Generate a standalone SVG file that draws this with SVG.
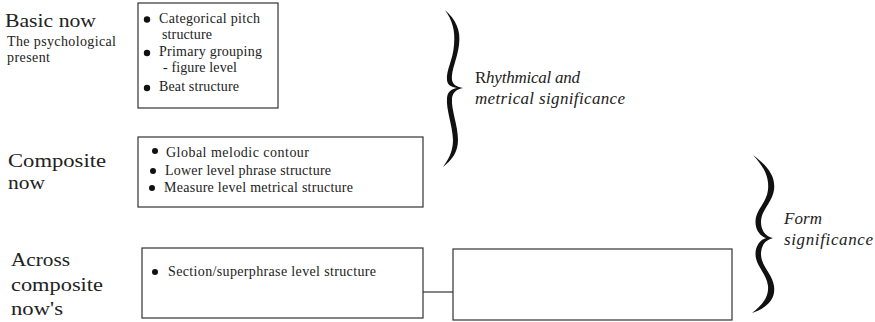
<svg xmlns="http://www.w3.org/2000/svg" width="875" height="322" viewBox="0 0 875 322">
<style>
text{font-family:"Liberation Serif","DejaVu Serif",serif;fill:#222}
.lbl{font-size:19px}
.sub{font-size:14px}
.item{font-size:14px}
.it{font-size:17px;font-style:italic}
.up{font-style:normal}
.box{fill:#fff;stroke:#333;stroke-width:1.2}
.dot{fill:#111}
.brace{fill:#111}
.conn{stroke:#333;stroke-width:1.2;fill:none}
</style>
<rect width="875" height="322" fill="#fff"/>

<g id="label-basic">
<text class="lbl" x="5" y="27" textLength="91" lengthAdjust="spacingAndGlyphs">Basic now</text>
<text class="sub" x="7" y="46" textLength="109" lengthAdjust="spacing">The psychological</text>
<text class="sub" x="7" y="62" textLength="43" lengthAdjust="spacing">present</text>
</g>

<g id="label-composite">
<text class="lbl" x="8" y="167" textLength="98" lengthAdjust="spacingAndGlyphs">Composite</text>
<text class="lbl" x="8" y="189" textLength="37" lengthAdjust="spacingAndGlyphs">now</text>
</g>

<g id="label-across">
<text class="lbl" x="11" y="266" textLength="59" lengthAdjust="spacingAndGlyphs">Across</text>
<text class="lbl" x="11" y="291" textLength="92" lengthAdjust="spacingAndGlyphs">composite</text>
<text class="lbl" x="11" y="315" textLength="52" lengthAdjust="spacingAndGlyphs">now's</text>
</g>

<g id="box-basic">
<rect class="box" x="138" y="3" width="140" height="105"/>
<circle class="dot" cx="147" cy="19.5" r="3.2"/>
<text class="item" x="159" y="23" textLength="101" lengthAdjust="spacing">Categorical pitch</text>
<text class="item" x="162" y="39" textLength="50" lengthAdjust="spacing">structure</text>
<circle class="dot" cx="147" cy="53" r="3.2"/>
<text class="item" x="159" y="56" textLength="103" lengthAdjust="spacing">Primary grouping</text>
<text class="item" x="163" y="72" textLength="74" lengthAdjust="spacing">- figure level</text>
<circle class="dot" cx="147" cy="88" r="3.2"/>
<text class="item" x="159" y="91" textLength="80" lengthAdjust="spacing">Beat structure</text>
</g>

<g id="box-composite">
<rect class="box" x="138" y="137" width="285" height="70"/>
<circle class="dot" cx="155" cy="151" r="3"/>
<text class="item" x="166" y="157" textLength="143" lengthAdjust="spacing">Global melodic contour</text>
<circle class="dot" cx="153" cy="171" r="3"/>
<text class="item" x="165" y="175" textLength="166" lengthAdjust="spacing">Lower level phrase structure</text>
<circle class="dot" cx="152" cy="188" r="3"/>
<text class="item" x="164" y="192" textLength="189" lengthAdjust="spacing">Measure level metrical structure</text>
</g>

<g id="box-across">
<rect class="box" x="142" y="248" width="281" height="70"/>
<circle class="dot" cx="155" cy="272" r="3"/>
<text class="item" x="168" y="276" textLength="208" lengthAdjust="spacing">Section/superphrase level structure</text>
</g>

<g id="box-empty">
<rect class="box" x="453" y="249" width="279" height="71"/>
</g>

<g id="connectors">
<line class="conn" x1="423" y1="292" x2="453" y2="292"/>
</g>

<g id="brace-rhythm">
<path class="brace" d="M445,10 C456,20 461,30 459,45 C457,60 451,70 452,80 C453,85 457,87 463,88 C457,89 453,92 452,98 C451,110 458,125 458,140 C458,152 452,160 443,167 C448,160 453,152 453,140 C452.5,125 446,110 447,98 C447.5,92 451,89 457,88 C451,87 447.5,85 447,80 C446,70 453,60 454,45 C455.5,30 452,20 445,10 Z"/>
<text class="it" x="475" y="83" textLength="105" lengthAdjust="spacing"><tspan class="up">R</tspan>hythmical and</text>
<text class="it" x="475" y="104" textLength="150" lengthAdjust="spacing">metrical significance</text>
</g>

<g id="brace-form">
<path class="brace" d="M753,155 C766,165 776,175 774,190 C772,203 761,210 761,222 C761,230 765,236 773,238 C765,240 761,246 761,254 C761,266 772,273 774,286 C776,300 766,308 752,313 C761,306 769,298 768,286 C766.5,273 755.5,266 755.5,254 C755.5,246 760,240 766,238 C760,236 755.5,230 755.5,222 C755.5,210 766.5,203 768,190 C769.5,175 762,165 753,155 Z"/>
<text class="it" x="784" y="224" textLength="38" lengthAdjust="spacing">Form</text>
<text class="it" x="784" y="245" textLength="89" lengthAdjust="spacing">significance</text>
</g>
</svg>
